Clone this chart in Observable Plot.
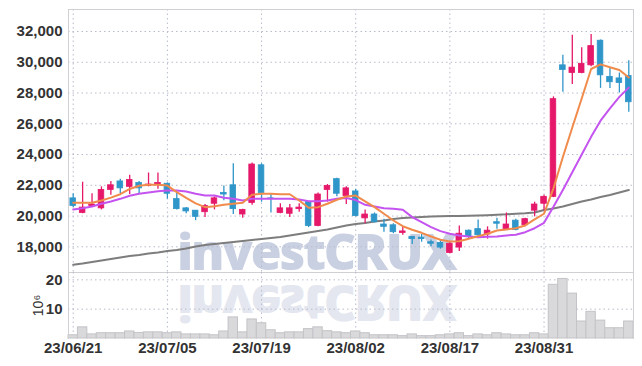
<!DOCTYPE html>
<html><head><meta charset="utf-8">
<script src="https://cdn.jsdelivr.net/npm/d3@7"></script>
<script src="https://cdn.jsdelivr.net/npm/@observablehq/plot@0.6"></script>
<style>
body{margin:0;background:#fff;}
#wrap{position:relative;width:642px;height:366px;overflow:hidden;background:#fff;}
#wrap svg{position:absolute;left:0;}
.wm{position:absolute;left:177px;font-family:"Open Sans";font-weight:800;font-size:50px;color:#c9d0e2;white-space:nowrap;line-height:1;letter-spacing:-2.2px;}
.wm.r{transform:scaleY(-1);color:#e4e7ef;}
</style></head><body><div id="wrap">
<div class="wm" style="top:226px">investCRUX</div>
<div class="wm r" style="top:279px">investCRUX</div>
</div>
<script>
const dates = ["23/06/21","23/06/22","23/06/23","23/06/26","23/06/27","23/06/28","23/06/29","23/06/30",
"23/07/03","23/07/04","23/07/05","23/07/06","23/07/07","23/07/10","23/07/11","23/07/12","23/07/13","23/07/14","23/07/17","23/07/18","23/07/19","23/07/20","23/07/21","23/07/24","23/07/25","23/07/26","23/07/27","23/07/28","23/07/31",
"23/08/01","23/08/02","23/08/03","23/08/04","23/08/07","23/08/08","23/08/09","23/08/10","23/08/11","23/08/14","23/08/16","23/08/17","23/08/18","23/08/21","23/08/22","23/08/23","23/08/24","23/08/25","23/08/28","23/08/29","23/08/30","23/08/31",
"23/09/01","23/09/04","23/09/05","23/09/06","23/09/07","23/09/08","23/09/11","23/09/12","23/09/13"];
const open = [21150,20200,20650,20500,21700,22250,21900,22150,21950,22000,22100,21100,20500,20350,20250,20800,21500,22000,20100,20850,23300,21150,20200,20150,20450,20900,19350,21700,22400,21300,21600,19850,20100,19450,19400,18900,18650,18600,18300,18250,17600,17950,19050,19150,18800,19600,19100,19700,19400,20350,20800,21250,29800,29300,29300,29800,31400,29050,28950,29100];
const high = [21450,22200,21450,21900,22250,22400,22650,22250,22800,22800,22150,21500,20550,20350,20750,21250,21950,23400,20450,23450,23400,21450,20800,20750,20800,20950,21500,22050,22450,21900,21750,20400,20200,19800,19500,19250,18650,18800,18450,18400,18350,19350,19100,19750,19300,19850,20200,19800,19850,20900,21350,27750,30450,31750,30950,31800,31450,29600,29300,30100];
const low = [20550,20150,20550,20400,21350,21450,21400,21400,21900,21750,21100,20400,20150,19700,19900,20400,21000,20100,19850,20700,20900,20200,20150,19900,20250,19250,19300,20900,21250,20750,19950,19500,19550,18950,18850,18750,18150,18300,18000,17850,17550,17700,18500,18600,18500,19150,19100,19050,19300,19950,20350,21200,28050,28550,29250,29700,28300,28300,28000,26750];
const close = [20650,20550,20750,21700,22000,21800,22350,21800,22050,22150,21450,20450,20300,19950,20650,21150,21400,20450,20400,23350,21500,21100,20500,20500,20550,19350,21400,21950,21450,21800,20000,20100,19600,19300,18950,19000,18500,18500,18200,17950,18200,18850,18650,18750,19050,19500,19450,19100,19800,20750,21250,27600,29500,29650,29900,31050,29150,28700,28650,27400];
const volume = [1.1,3.8,1.4,1.8,1.8,1.8,2.4,1.9,2.1,2.1,1.8,2.1,1.4,1.4,1.4,1.1,2.4,7.2,2.1,6.5,5.2,2.8,1.8,2.1,2.1,3.2,3.8,2.5,2.1,1.8,2.4,1.8,1.1,1.1,1.1,0.8,1.4,0.8,0.8,1.1,1.4,1.8,0.8,1.4,1.1,1.8,1.4,1.1,1.1,1.8,1.4,18.3,20.3,15.3,5.8,9.1,6.1,3.5,3.5,5.8];
const ma5 = [20860,20860,20860,21010,21200,21420,21760,21970,22030,22040,21980,21560,21180,20820,20580,20640,20730,20800,20860,21380,21450,21450,21420,21420,21010,20540,20580,20800,21060,21270,21330,20950,20580,20150,19710,19340,19110,18910,18670,18460,18350,18360,18520,18690,18850,19060,19130,19210,19390,19780,20150,21800,23840,25760,27640,29560,29860,29680,29500,29010];
const ma10 = [20430,20510,20620,20800,20950,21120,21320,21450,21530,21620,21660,21660,21600,21450,21340,21340,21190,21120,21010,21120,21120,21120,21120,21120,21080,20970,20970,21010,21120,21170,21040,20730,20620,20510,20470,20410,19930,19600,19280,19020,18850,18740,18670,18620,18650,18670,18740,18780,18950,19210,19560,20600,21700,22850,24000,25150,26200,27000,27750,28350];
const ma60 = [16830,16910,17010,17110,17210,17300,17400,17470,17560,17630,17730,17790,17890,18020,18120,18180,18250,18310,18380,18440,18510,18570,18640,18740,18830,18930,19030,19130,19260,19390,19480,19550,19650,19710,19810,19870,19910,19940,19970,19980,20000,20010,20020,20040,20060,20090,20110,20150,20180,20230,20390,20490,20620,20780,20950,21080,21240,21370,21530,21690];
const xTicks = ["23/06/21","23/07/05","23/07/19","23/08/02","23/08/17","23/08/31"];
const priceTicks = [18000,20000,22000,24000,26000,28000,30000,32000];
const volTicks = [10,20];

const UP = "#e5186a", DOWN = "#2f96c9";
const rows = dates.map((d,i)=>({date:d, open:open[i], high:high[i], low:low[i], close:close[i], vol:volume[i], ma5:ma5[i], ma10:ma10[i], ma60:ma60[i], col: close[i]>=open[i]?UP:DOWN}));

const font = {fontFamily:"'Liberation Sans Narrow', 'Liberation Sans', sans-serif", fontSize:"15px", fontWeight:"bold", color:"#333", background:"transparent", overflow:"visible"};
const grid = {stroke:"#b7bccd", strokeOpacity:1, strokeDasharray:"1.5,3", strokeWidth:1};
const xScale = {type:"band", domain:dates, padding:0, round:false, axis:null};

const price = Plot.plot({
  width:642, height:272, marginTop:9, marginBottom:0, marginLeft:68, marginRight:9,
  style:font,
  x:xScale,
  y:{domain:[16330,33430], axis:null},
  marks:[
    Plot.gridX(xTicks, grid),
    Plot.gridY(priceTicks, grid),
    Plot.axisY(priceTicks, {tickSize:0, tickPadding:6, tickFormat:d3.format(","), fill:"#333"}),
    Plot.line(rows, {x:"date", y:"ma60", stroke:"#7d7d7d", strokeWidth:2}),
    Plot.ruleX(rows, {x:"date", y1:"low", y2:"high", stroke:"col", strokeWidth:1.3}),
    Plot.barY(rows, {x:"date", y1:"open", y2:"close", fill:"col", stroke:"col", strokeWidth:0.8, insetLeft:1.9, insetRight:1.9}),
    Plot.line(rows, {x:"date", y:"ma10", stroke:"#c453ef", strokeWidth:2}),
    Plot.line(rows, {x:"date", y:"ma5", stroke:"#f08b4c", strokeWidth:2}),
    Plot.frame({stroke:"#cfcfd4"})
  ]
});
price.style.top = "0px";

const vol = Plot.plot({
  width:642, height:94, marginTop:0, marginBottom:28, marginLeft:68, marginRight:9,
  style:font,
  x:xScale,
  y:{domain:[0,22.5], axis:null},
  marks:[
    Plot.gridX(xTicks, grid),
    Plot.gridY(volTicks, grid),
    Plot.axisY(volTicks, {tickSize:0, tickPadding:6, fill:"#333", label:"10⁶", labelAnchor:"center", labelOffset:35, labelArrow:"none"}),
    Plot.axisX(xTicks, {tickSize:0, tickPadding:4, fill:"#333", label:null}),
    Plot.barY(rows, {x:"date", y:"vol", fill:"#d9d9db", stroke:"#c4c4c8", strokeWidth:1}),
    Plot.frame({anchor:"left", stroke:"#cfcfd4"}),
    Plot.frame({anchor:"right", stroke:"#cfcfd4"})
  ]
});
vol.style.top = "272px";
d3.select(vol).selectAll('[aria-label="y-axis label"] text').attr("font-weight","normal").attr("font-family","'Liberation Sans', sans-serif").attr("font-size","14px");

const wrap = document.getElementById("wrap");
wrap.appendChild(price);
wrap.appendChild(vol);
</script>
</body></html>
